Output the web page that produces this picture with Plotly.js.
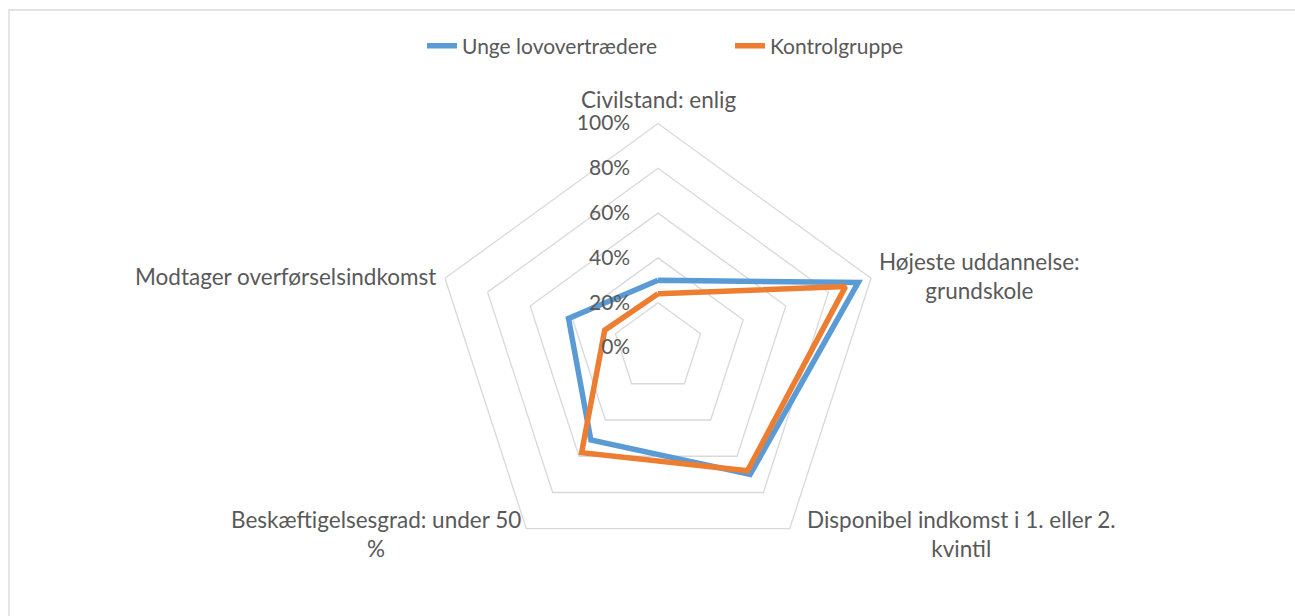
<!DOCTYPE html>
<html>
<head>
<meta charset="utf-8">
<script src="https://cdn.plot.ly/plotly-3.0.1.min.js"></script>
<style>html,body{margin:0;padding:0;background:#fff;}#chart{width:1295px;height:616px;}</style>
</head>
<body>
<div id="chart"></div>
<script>
const categories = [
  "Civilstand: enlig",
  "Højeste uddannelse:<br>grundskole",
  "Disponibel indkomst i 1. eller 2.<br>kvintil",
  "Beskæftigelsesgrad: under 50<br>%",
  "Modtager overførselsindkomst"
];
const seriesNames = ["Unge lovovertrædere", "Kontrolgruppe"];
const ungeValues = [0.30, 0.94, 0.70, 0.51, 0.42];
const kontrolValues = [0.24, 0.88, 0.68, 0.58, 0.25];
const radialTicks = [0, 0.2, 0.4, 0.6, 0.8, 1.0];

const colors = ["#5B9BD5", "#ED7D31"];
const FONT = "Lato, 'Open Sans', sans-serif";
const TXT = "#595959";

function closed(a){ return a.concat([a[0]]); }

const traces = [ungeValues, kontrolValues].map((v, i) => ({
  type: "scatterpolar",
  mode: "lines",
  name: seriesNames[i],
  r: closed(v),
  theta: closed(categories),
  line: {color: colors[i], width: 5.5, shape: "linear"},
  hoverinfo: "skip"
}));

const W = 1295, H = 616;
const cx = 658, cy = 347.5, R = 224;

// category label placement (offset from each spoke's outer vertex, in px)
const labelOffsets = [[0, -24], [108, -2], [172, 5], [-150, 5], [-159, -2]];
const annotations = categories.map((c, i) => {
  const a = (90 - 72 * i) * Math.PI / 180;
  const vx = cx + R * Math.cos(a), vy = cy - R * Math.sin(a);
  const px = vx + labelOffsets[i][0], py = vy + labelOffsets[i][1];
  return {
    text: c, xref: "paper", yref: "paper",
    x: px / W, y: 1 - py / H, xanchor: "center", yanchor: "middle",
    align: "center", showarrow: false,
    font: {family: FONT, size: 22.5, color: TXT}
  };
});

const layout = {
  width: W, height: H,
  margin: {l: 0, r: 0, t: 0, b: 0},
  paper_bgcolor: "#ffffff",
  plot_bgcolor: "#ffffff",
  font: {family: FONT, size: 21, color: TXT},
  showlegend: true,
  legend: {
    orientation: "h",
    x: 422 / W, xanchor: "left",
    y: 1 - 46 / H, yanchor: "middle",
    font: {family: FONT, size: 21, color: TXT},
    entrywidth: 263, entrywidthmode: "pixels",
    bgcolor: "rgba(0,0,0,0)"
  },
  polar: {
    domain: {
      x: [(cx - R) / W, (cx + R) / W],
      y: [(H - cy - R) / H, (H - cy + R) / H]
    },
    gridshape: "linear",
    bgcolor: "#ffffff",
    radialaxis: {
      range: [0, 1],
      tickvals: radialTicks,
      tickformat: ".0%",
      angle: 90,
      side: "counterclockwise",
      tickangle: 90,
      showline: false,
      ticks: "outside",
      ticklen: 20,
      tickcolor: "rgba(0,0,0,0)",
      gridcolor: "#d9d9d9",
      gridwidth: 1.3,
      tickfont: {family: FONT, size: 21, color: TXT}
    },
    angularaxis: {
      direction: "clockwise",
      rotation: 90,
      showgrid: false,
      showline: true,
      linecolor: "#d9d9d9",
      linewidth: 1.3,
      ticks: "",
      showticklabels: false
    }
  },
  annotations: annotations,
  shapes: [{
    type: "rect", xref: "paper", yref: "paper",
    x0: 9 / W, x1: 1.01, y0: -0.02, y1: 1 - 10 / H,
    line: {color: "#d9d9d9", width: 1.3}, fillcolor: "rgba(0,0,0,0)", layer: "below"
  }]
};

Plotly.newPlot("chart", traces, layout, {displayModeBar: false, staticPlot: true});
</script>
</body>
</html>
